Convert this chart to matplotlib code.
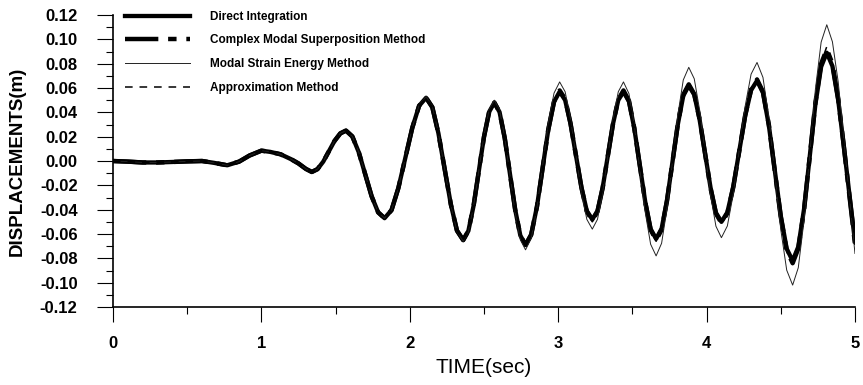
# displacement time history, four solution methods compared
import numpy as np
import matplotlib
matplotlib.use('Agg')
import matplotlib.pyplot as plt
from matplotlib.ticker import MultipleLocator, FormatStrFormatter

plt.rcParams['font.family'] = ['Liberation Sans', 'DejaVu Sans']

# time (sec)
t = [0.00, 0.10, 0.20, 0.30, 0.40, 0.50, 0.60, 0.68, 0.77, 0.85, 0.92, 1.00, 1.06, 1.13, 1.20, 1.25, 1.30, 1.34,
	1.378, 1.417, 1.455, 1.493, 1.532, 1.57,
	1.613, 1.657, 1.70, 1.743, 1.787, 1.83,
	1.877, 1.923, 1.97, 2.017, 2.063, 2.11,
	2.152, 2.193, 2.235, 2.277, 2.318, 2.36,
	2.395, 2.43, 2.465, 2.50, 2.535, 2.57,
	2.605, 2.64, 2.675, 2.71, 2.745, 2.78,
	2.818, 2.857, 2.895, 2.933, 2.972, 3.01,
	3.047, 3.083, 3.12, 3.157, 3.193, 3.23,
	3.265, 3.30, 3.335, 3.37, 3.405, 3.44,
	3.477, 3.513, 3.55, 3.587, 3.623, 3.66,
	3.697, 3.733, 3.77, 3.807, 3.843, 3.88,
	3.917, 3.953, 3.99, 4.027, 4.063, 4.10,
	4.14, 4.18, 4.22, 4.26, 4.30, 4.34,
	4.38, 4.42, 4.46, 4.50, 4.54, 4.58,
	4.618, 4.657, 4.695, 4.733, 4.772, 4.81,
	4.848, 4.887, 4.925, 4.963, 5.00]

# direct integration (m)
direct = [0.0, -0.0005, -0.0012, -0.0012, -0.0008, -0.0003, 0.0, -0.0015, -0.0035, -0.0005, 0.0045, 0.0085, 0.0075, 0.0055, 0.0015, -0.002, -0.0065, -0.009,
	-0.0067, -0.0005, 0.008, 0.0165, 0.0227, 0.025,
	0.0202, 0.007, -0.011, -0.029, -0.0422, -0.047,
	-0.0404, -0.0223, 0.0025, 0.0273, 0.0454, 0.052,
	0.0442, 0.0228, -0.0065, -0.0358, -0.0572, -0.065,
	-0.0574, -0.0368, -0.0085, 0.0198, 0.0404, 0.048,
	0.0402, 0.0188, -0.0105, -0.0398, -0.0612, -0.069,
	-0.0606, -0.0375, -0.006, 0.0255, 0.0486, 0.057,
	0.050, 0.0308, 0.0045, -0.0218, -0.041, -0.048,
	-0.041, -0.0218, 0.0045, 0.0308, 0.050, 0.057,
	0.0489, 0.0268, -0.0035, -0.0338, -0.0559, -0.064,
	-0.0556, -0.0325, -0.001, 0.0305, 0.0536, 0.062,
	0.0545, 0.034, 0.006, -0.022, -0.0425, -0.050,
	-0.0422, -0.021, 0.008, 0.037, 0.0582, 0.066,
	0.0561, 0.029, -0.008, -0.045, -0.0721, -0.082,
	-0.0705, -0.0393, 0.0035, 0.0463, 0.0775, 0.089,
	0.078, 0.050, 0.012, -0.028, -0.066]

# complex modal superposition
cmplx = [0.0, -0.0005, -0.0012, -0.0012, -0.0008, -0.0003, 0.0, -0.0015, -0.0035, -0.0005, 0.0045, 0.0085, 0.0075, 0.0055, 0.0015, -0.002, -0.0065, -0.009,
	-0.0067, -0.0005, 0.008, 0.0165, 0.0227, 0.025,
	0.0202, 0.007, -0.011, -0.029, -0.0422, -0.047,
	-0.0404, -0.0223, 0.0025, 0.0273, 0.0454, 0.052,
	0.0442, 0.0228, -0.0065, -0.0358, -0.0572, -0.065,
	-0.0574, -0.0368, -0.0085, 0.0198, 0.0404, 0.048,
	0.0402, 0.0188, -0.0105, -0.0398, -0.0612, -0.069,
	-0.0606, -0.0375, -0.006, 0.0255, 0.0488, 0.058,
	0.051, 0.031, 0.0045, -0.022, -0.0415, -0.049,
	-0.0415, -0.022, 0.0045, 0.031, 0.0505, 0.058,
	0.0495, 0.027, -0.0035, -0.034, -0.0565, -0.065,
	-0.0565, -0.033, -0.001, 0.031, 0.0545, 0.063,
	0.055, 0.0345, 0.006, -0.0225, -0.0432, -0.051,
	-0.043, -0.0215, 0.008, 0.0375, 0.059, 0.067,
	0.057, 0.0295, -0.0085, -0.046, -0.0735, -0.084,
	-0.072, -0.040, 0.0035, 0.0475, 0.080, 0.092,
	0.080, 0.051, 0.012, -0.029, -0.068]

# modal strain energy
mse = [0.0, -0.0005, -0.0012, -0.0012, -0.0008, -0.0003, 0.0, -0.0015, -0.0035, -0.0005, 0.0045, 0.0085, 0.0075, 0.0055, 0.0015, -0.002, -0.0065, -0.009,
	-0.0067, -0.0005, 0.008, 0.0165, 0.0227, 0.025,
	0.0202, 0.007, -0.011, -0.029, -0.0422, -0.047,
	-0.0404, -0.0223, 0.0025, 0.0276, 0.046, 0.053,
	0.045, 0.0233, -0.0065, -0.0363, -0.058, -0.066,
	-0.0582, -0.037, -0.008, 0.021, 0.0422, 0.050,
	0.0418, 0.0193, -0.0115, -0.0423, -0.0648, -0.073,
	-0.0638, -0.0385, -0.004, 0.0305, 0.0558, 0.065,
	0.0569, 0.0348, 0.0045, -0.0258, -0.0479, -0.056,
	-0.0479, -0.0258, 0.0045, 0.0348, 0.0569, 0.065,
	0.0554, 0.0293, -0.0065, -0.0423, -0.0684, -0.078,
	-0.0676, -0.0393, -0.0005, 0.0383, 0.0666, 0.077,
	0.0676, 0.042, 0.007, -0.028, -0.0536, -0.063,
	-0.0534, -0.027, 0.009, 0.045, 0.0714, 0.081,
	0.0687, 0.0353, -0.0105, -0.0563, -0.0897, -0.102,
	-0.0877, -0.0485, 0.005, 0.0585, 0.0977, 0.112,
	0.098, 0.065, 0.018, -0.030, -0.076]

# approximation method
approx = [0.0, -0.0005, -0.0012, -0.0012, -0.0008, -0.0003, 0.0, -0.0015, -0.0035, -0.0005, 0.0045, 0.0085, 0.0075, 0.0055, 0.0015, -0.002, -0.0065, -0.009,
	-0.0067, -0.0005, 0.008, 0.0165, 0.0227, 0.025,
	0.0202, 0.007, -0.011, -0.029, -0.0422, -0.047,
	-0.0404, -0.0223, 0.0025, 0.0273, 0.0454, 0.052,
	0.0442, 0.0228, -0.0065, -0.0358, -0.0572, -0.065,
	-0.0574, -0.0368, -0.0085, 0.0198, 0.0404, 0.048,
	0.0402, 0.0188, -0.0105, -0.0398, -0.0612, -0.069,
	-0.0606, -0.0375, -0.006, 0.0258, 0.049, 0.058,
	0.0512, 0.0312, 0.0045, -0.0222, -0.042, -0.050,
	-0.042, -0.0222, 0.0045, 0.0312, 0.051, 0.059,
	0.050, 0.0272, -0.0035, -0.0345, -0.057, -0.066,
	-0.057, -0.0335, -0.001, 0.0315, 0.055, 0.064,
	0.056, 0.035, 0.006, -0.023, -0.0438, -0.052,
	-0.0438, -0.022, 0.008, 0.038, 0.060, 0.068,
	0.058, 0.030, -0.0085, -0.0465, -0.0745, -0.085,
	-0.073, -0.0405, 0.0035, 0.048, 0.081, 0.094,
	0.082, 0.052, 0.013, -0.029, -0.069]

fig = plt.figure(figsize=(8.63, 3.85), dpi=100)
ax = fig.add_axes([0.1309, 0.2026, 0.8598, 0.7584])

ax.plot(t, direct, color='black', lw=3.1, solid_joinstyle='round', label='Direct Integration')
l2, = ax.plot(t, cmplx, color='black', lw=3.2, label='Complex Modal Superposition Method')
l2.set_dashes((7.5, 2.2, 1.9, 2.2))
ax.plot(t, mse, color='#222222', lw=0.7, solid_joinstyle='round', label='Modal Strain Energy Method')
l4, = ax.plot(t, approx, color='black', lw=1.1, label='Approximation Method')
l4.set_dashes((5.0, 4.5))

ax.set_xlim(0, 5)
ax.set_ylim(-0.12, 0.12)

for s in ['top', 'right']:
	ax.spines[s].set_visible(False)
for s in ['left', 'bottom']:
	ax.spines[s].set_linewidth(1.2)

ax.yaxis.set_major_locator(MultipleLocator(0.02))
ax.yaxis.set_minor_locator(MultipleLocator(0.01))
ax.yaxis.set_major_formatter(FormatStrFormatter('%.2f'))
ax.xaxis.set_major_locator(MultipleLocator(1))
ax.xaxis.set_minor_locator(MultipleLocator(0.5))
ax.tick_params(axis='y', which='major', direction='out', length=11.5, width=0.8, pad=14)
ax.tick_params(axis='y', which='minor', direction='out', length=5, width=0.8)
ax.tick_params(axis='x', which='major', direction='out', length=11, width=0.8, pad=10)
ax.tick_params(axis='x', which='minor', direction='out', length=5, width=0.8)
for lab in ax.get_xticklabels() + ax.get_yticklabels():
	lab.set_fontsize(12)
	lab.set_fontweight('bold')

ax.set_xlabel('TIME(sec)', fontsize=15, labelpad=5)
ax.set_ylabel('DISPLACEMENTS(m)', fontsize=13.5, fontweight='bold', labelpad=10)

ax.legend(loc='upper left', bbox_to_anchor=(0.016, 1.015), frameon=False,
	borderpad=0, borderaxespad=0, handlelength=5.5, handletextpad=1.7,
	labelspacing=1.0, prop={'size': 8.5, 'weight': 'bold'})

plt.savefig('out.png', dpi=100)
